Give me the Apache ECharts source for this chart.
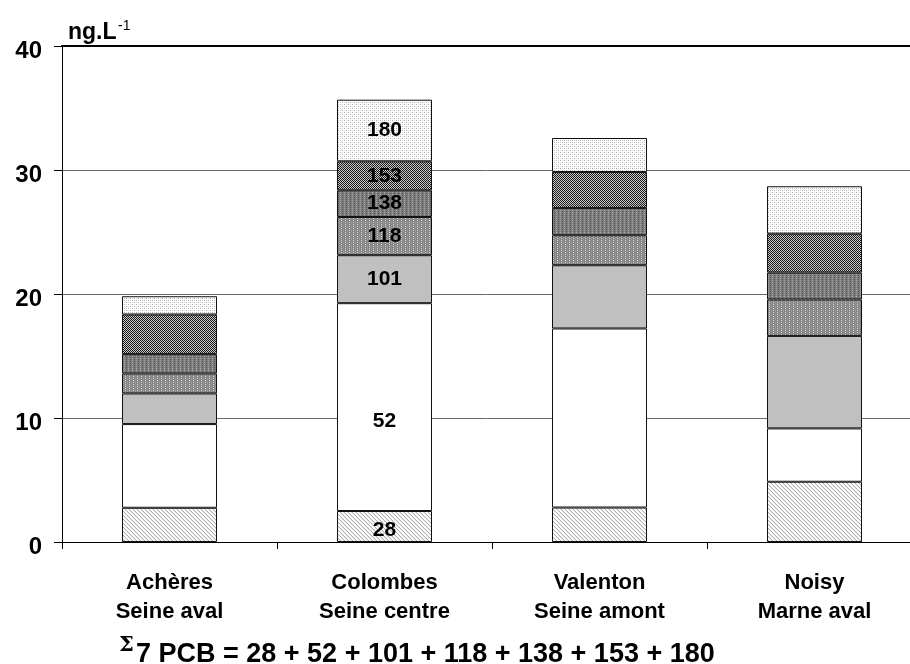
<!DOCTYPE html>
<html>
<head>
<meta charset="utf-8">
<script src="https://cdn.jsdelivr.net/npm/echarts@6/dist/echarts.min.js"></script>
<style>
html,body{margin:0;padding:0;background:#fff;}
#chart{width:910px;height:664px;}
</style>
</head>
<body>
<div id="chart"></div>
<script>
// ---- data ----
const categories = ['Achères\nSeine aval', 'Colombes\nSeine centre', 'Valenton\nSeine amont', 'Noisy\nMarne aval'];
const congenerNames = ['28', '52', '101', '118', '138', '153', '180'];
const pcb28  = [2.76, 2.50, 2.78, 4.86];
const pcb52  = [6.75, 16.76, 14.44, 4.30];
const pcb101 = [2.47, 3.87, 5.10, 7.46];
const pcb118 = [1.61, 3.08, 2.42, 2.94];
const pcb138 = [1.56, 2.15, 2.20, 2.17];
const pcb153 = [3.20, 2.34, 2.90, 3.14];
const pcb180 = [1.47, 4.97, 2.74, 3.82];
const yTicks = [0, 10, 20, 30, 40];
const unitLabel = 'ng.L';
const unitExp = '-1';
const sumSymbol = 'Σ';
const sumText = '7 PCB = 28 + 52 + 101 + 118 + 138 + 153 + 180';
const labelledCategory = 1; // Colombes

// ---- patterns ----
function pat(size, bg, dots) {
  const c = document.createElement('canvas');
  c.width = c.height = size;
  const g = c.getContext('2d');
  g.fillStyle = bg; g.fillRect(0, 0, size, size);
  dots.forEach(d => { g.fillStyle = d[2]; g.fillRect(d[0], d[1], 1, 1); });
  return {image: c, repeat: 'repeat'};
}
const fills = [
  pat(4, '#ffffff', [[0,0,'#b0b0b0'],[1,1,'#b0b0b0'],[2,2,'#b0b0b0'],[3,3,'#b0b0b0'],[0,1,'#e8e8e8'],[1,2,'#e8e8e8'],[2,3,'#e8e8e8'],[3,0,'#e8e8e8']]),
  '#ffffff',
  '#c0c0c0',
  pat(4, '#858585', [[1,0,'#d8d8d8'],[1,2,'#d8d8d8'],[3,1,'#a0a0a0'],[3,3,'#a0a0a0']]),
  pat(4, '#7c7c7c', [[0,0,'#a8a8a8'],[0,2,'#a8a8a8'],[2,1,'#5a5a5a'],[2,3,'#5a5a5a']]),
  pat(2, '#c8c8c8', [[0,0,'#1a1a1a'],[1,1,'#1a1a1a']]),
  pat(4, '#ffffff', [[0,0,'#a8a8a8'],[2,2,'#a8a8a8'],[2,0,'#d8d8d8'],[0,2,'#d8d8d8']])
];
const seriesValues = [pcb28, pcb52, pcb101, pcb118, pcb138, pcb153, pcb180];
const labelOffsets = {'28': [0, 4], '52': [0, 14]};

const font = '"Liberation Sans", Arial, sans-serif';

const series = seriesValues.map((vals, si) => ({
  name: congenerNames[si],
  type: 'bar',
  stack: 'total',
  barWidth: 95,
  xAxisIndex: 0,
  itemStyle: {color: fills[si], borderColor: '#111', borderWidth: 1},
  emphasis: {disabled: true},
  data: vals.map((v, ci) => ci === labelledCategory ? {
    value: v,
    label: {
      show: true, position: 'inside', formatter: '{a}',
      color: '#000', fontFamily: font, fontWeight: 'bold', fontSize: 21,
      offset: labelOffsets[congenerNames[si]] || [0, 0]
    }
  } : v)
}));

const chart = echarts.init(document.getElementById('chart'));
chart.setOption({
  animation: false,
  backgroundColor: '#fff',
  grid: {left: 62, top: 46, width: 860, height: 496, outerBoundsMode: 'none', containLabel: false},
  title: [
    {text: unitLabel, left: 68, top: 21, padding: 0, textStyle: {fontFamily: font, fontWeight: 'bold', fontSize: 23, color: '#000'}},
    {text: unitExp, left: 118, top: 19, padding: 0, textStyle: {fontFamily: font, fontWeight: 'normal', fontSize: 14, color: '#000'}},
    {text: sumSymbol, left: 119, top: 635, padding: 0, textStyle: {fontFamily: '"DejaVu Serif", "Liberation Serif", serif', fontWeight: 'bold', fontSize: 21, color: '#000'}},
    {text: sumText, left: 136, top: 641, padding: 0, textStyle: {fontFamily: font, fontWeight: 'bold', fontSize: 27, color: '#000'}}
  ],
  xAxis: [{
    type: 'category',
    data: categories,
    position: 'bottom',
    axisLine: {lineStyle: {color: '#000', width: 1}},
    axisTick: {show: true, length: 7, lineStyle: {color: '#000'}},
    axisLabel: {
      margin: 26, color: '#000', fontFamily: font, fontWeight: 'bold', fontSize: 22, lineHeight: 29
    }
  }, {
    type: 'category',
    data: categories,
    position: 'top',
    axisLine: {show: true, lineStyle: {color: '#000', width: 2}},
    axisTick: {show: false},
    axisLabel: {show: false}
  }],
  yAxis: {
    type: 'value',
    min: yTicks[0],
    max: yTicks[yTicks.length - 1],
    interval: yTicks[1] - yTicks[0],
    axisLine: {show: true, lineStyle: {color: '#000', width: 1}},
    axisTick: {show: true, length: 8, lineStyle: {color: '#000'}},
    axisLabel: {margin: 20, color: '#000', fontFamily: font, fontWeight: 'bold', fontSize: 24, verticalAlign: 'top', lineHeight: 10},
    splitLine: {show: true, lineStyle: {color: '#6a6a6a', width: 1}}
  },
  series: series
});
</script>
</body>
</html>
